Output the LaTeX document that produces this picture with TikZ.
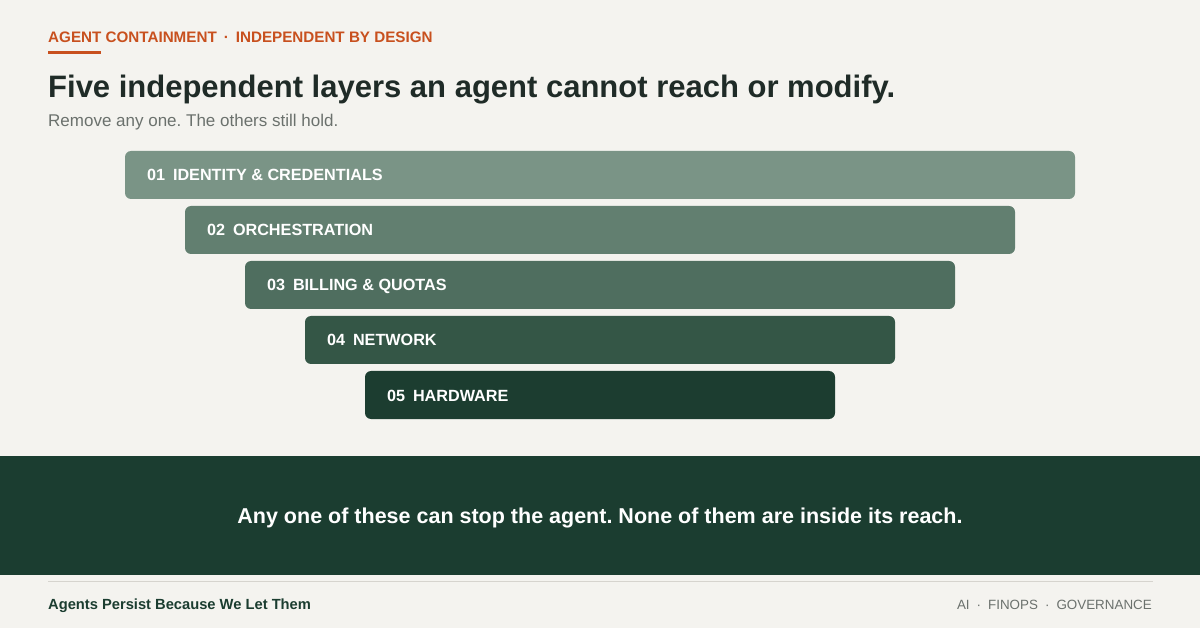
\documentclass[tikz,border=0pt]{standalone}
\usepackage{fontspec}
\setmainfont{Liberation Sans}
\usetikzlibrary{positioning}
\frenchspacing

\definecolor{paper}{HTML}{F4F3EF}
\definecolor{rust}{HTML}{C8501E}
\definecolor{ink}{HTML}{1F2B27}
\definecolor{muted}{HTML}{6B716D}
\definecolor{forest}{HTML}{1B3D30}
\definecolor{rule}{HTML}{D6D4CE}
\definecolor{layer1}{HTML}{7A9486}
\definecolor{layer2}{HTML}{627F70}
\definecolor{layer3}{HTML}{4F6E5F}
\definecolor{layer4}{HTML}{345646}
\definecolor{layer5}{HTML}{1C3D30}

\tikzset{
    txt/.style={inner sep=0pt, anchor=base west},
    layerbar/.style={rectangle, rounded corners=6pt, minimum height=48pt, inner sep=0pt},
    layertxt/.style={txt, text=white, font=\fontsize{16.2}{19}\selectfont\bfseries}
}

\begin{document}
\begin{tikzpicture}[x=1pt, y=-1pt]
        \def\xstep{60}
        \def\ystep{55}

        \fill[paper] (0,0) rectangle (1200,628);
        \useasboundingbox (0,0) rectangle (1200,628);

        % heading
        \node[txt, text=rust, font=\fontsize{15.2}{18}\selectfont\bfseries] (kicker) at (48,43)
            {AGENT CONTAINMENT\hspace{7pt}·\hspace{7pt}INDEPENDENT BY DESIGN};
        \fill[rust] (48,51.5) rectangle (101,54.5);
        \node[txt, text=ink, font=\fontsize{31}{36}\selectfont\bfseries] (title) at (48,98)
            {Five independent layers an agent cannot reach or modify.};
        \node[txt, text=muted, font=\fontsize{17}{20}\selectfont] (subtitle) at (48,127)
            {Remove any one. The others still hold.};

        % the five layers
        \foreach \i/\n/\t in {1/01/IDENTITY \& CREDENTIALS, 2/02/ORCHESTRATION, 3/03/BILLING \& QUOTAS, 4/04/NETWORK, 5/05/HARDWARE} {
            \pgfmathsetmacro{\w}{950 - 2*\xstep*(\i-1)}
            \pgfmathsetmacro{\yc}{175 + \ystep*(\i-1)}
            \node[layerbar, fill=layer\i, minimum width=\w pt] (bar\i) at (600,\yc) {};
            \node[layertxt] (name\i) at ([xshift=22pt, yshift=-6pt]bar\i.west) {\n\hspace{8pt}\t};
        }

        % band
        \fill[forest] (0,456) rectangle (1200,575);
        \node[inner sep=0pt, anchor=base, text=white, font=\fontsize{21.5}{26}\selectfont\bfseries] (claim) at (600,523)
            {Any one of these can stop the agent. None of them are inside its reach.};

        % footer
        \draw[rule, line width=1.5pt] (48,581.5) -- (1153,581.5);
        \node[txt, text=forest, font=\fontsize{14.7}{17}\selectfont\bfseries] (series) at (48,609)
            {Agents Persist Because We Let Them};
        \node[inner sep=0pt, anchor=base east, text=muted, font=\fontsize{13.4}{16}\selectfont] (tags) at (1152,609)
            {AI\hspace{7pt}·\hspace{7pt}FINOPS\hspace{7pt}·\hspace{7pt}GOVERNANCE};
\end{tikzpicture}
\end{document}
